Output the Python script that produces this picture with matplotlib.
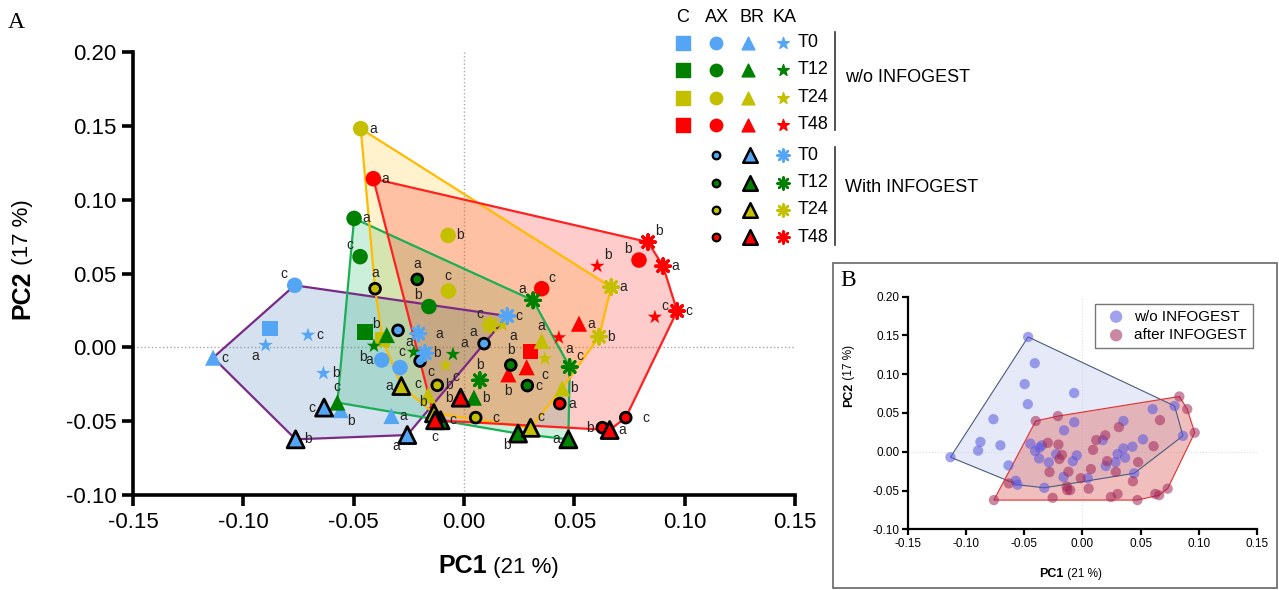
import numpy as np
import matplotlib
matplotlib.use('Agg')
import matplotlib.pyplot as plt
from matplotlib.patches import Polygon, Rectangle

plt.rcParams['font.family'] = ['Liberation Sans', 'DejaVu Sans']

# sampling times (h) for each replicate a, b, c
times = [0, 0, 0, 12, 12, 12, 24, 24, 24, 48, 48, 48]
time_names = ['T0', 'T12', 'T24', 'T48']

# C (control), w/o INFOGEST only
C_t = [0, 12, 24, 48]
C_x = [-0.0879, -0.0449, -0.0370, 0.0302]
C_y = [0.0127, 0.0104, 0.0054, -0.0029]

# AX
AX_wo_x = [-0.0373, -0.0290, -0.0767, -0.0498, -0.0159, -0.0471, -0.0468, -0.0072, -0.0071, -0.0411, 0.0793, 0.0352]
AX_wo_y = [-0.0086, -0.0137, 0.0420, 0.0873, 0.0276, 0.0614, 0.1481, 0.0758, 0.0381, 0.1142, 0.0591, 0.0397]
AX_wo_lab = ['a', '', 'c', 'a', 'b', 'c', 'a', 'b', 'c', 'a', 'b', 'c']
AX_in_x = [-0.0299, 0.0091, -0.0199, -0.0212, 0.0212, 0.0287, -0.0403, -0.0121, 0.0053, 0.0434, 0.0627, 0.0733]
AX_in_y = [0.0115, 0.0025, -0.0093, 0.0460, -0.0120, -0.0259, 0.0397, -0.0257, -0.0476, -0.0381, -0.0544, -0.0476]
AX_in_lab = ['a', 'a', 'c', 'a', 'b', 'c', 'a', 'b', 'c', 'a', 'b', 'c']

# BR
BR_wo_x = [-0.0329, -0.0559, -0.1137, -0.0350, -0.0574, 0.0045, 0.0352, 0.0445, -0.0163, 0.0521, 0.0201, 0.0284]
BR_wo_y = [-0.0465, -0.0425, -0.0070, 0.0083, -0.0374, -0.0341, 0.0043, -0.0278, -0.0325, 0.0160, -0.0183, -0.0135]
BR_wo_lab = ['a', 'b', 'c', 'b', 'c', 'b', 'a', 'b', 'c', 'a', 'b', '']
BR_in_x = [-0.0257, -0.0763, -0.0634, 0.0473, 0.0245, -0.0106, -0.0284, -0.0136, 0.0302, 0.0660, -0.0015, -0.0131]
BR_in_y = [-0.0594, -0.0623, -0.0408, -0.0623, -0.0584, -0.0494, -0.0262, -0.0447, -0.0545, -0.0560, -0.0341, -0.0494]
BR_in_lab = ['a', 'b', 'c', 'a', 'b', 'c', 'a', 'b', 'c', 'a', 'b', 'c']

# KA
KA_wo_x = [-0.0899, -0.0637, -0.0707, -0.0050, -0.0408, -0.0227, 0.0174, -0.0083, 0.0367, 0.0430, 0.0604, 0.0865]
KA_wo_y = [0.0014, -0.0176, 0.0083, -0.0047, 0.0009, -0.0032, 0.0151, -0.0122, -0.0077, 0.0066, 0.0550, 0.0205]
KA_wo_lab = ['a', 'b', 'c', 'a', 'b', 'c', 'a', 'c', 'c', 'a', 'b', 'c']
KA_in_x = [-0.0207, -0.0177, 0.0196, 0.0313, 0.0072, 0.0479, 0.0667, 0.0612, 0.0118, 0.0902, 0.0834, 0.0966]
KA_in_y = [0.0093, -0.0040, 0.0212, 0.0318, -0.0223, -0.0133, 0.0408, 0.0072, 0.0151, 0.0550, 0.0713, 0.0246]
KA_in_lab = ['a', 'b', 'c', 'a', 'b', 'c', 'a', 'b', 'c', 'a', 'b', 'c']

# where each replicate letter sits relative to its marker
AX_wo_side = ['l', 'r', 'ul', 'r', 'ul', 'ul', 'r', 'r', 'u', 'r', 'ul', 'ur']
AX_in_side = ['dr', 'ul', 'dr', 'u', 'u', 'r', 'u', 'r', 'rr', 'r', 'l', 'rr']
BR_wo_side = ['r', 'dr', 'r', 'ul', 'u', 'r', 'u', 'r', 'ul', 'r', 'd', 'r']
BR_in_side = ['dl', 'r', 'l', 'l', 'dl', 'r', 'l', 'ul', 'ur', 'r', 'l', 'd']
KA_wo_side = ['dl', 'r', 'r', 'ur', 'dl', 'l', 'dr', 'dr', 'd', 'dr', 'ur', 'ur']
KA_in_side = ['rr', 'r', 'r', 'ul', 'u', 'ur', 'r', 'r', 'ul', 'r', 'ur', 'r']

tcol = {0: '#55a5f5', 12: '#008000', 24: '#c4c000', 48: '#ff0000'}
hull_edge = {0: '#7a2a85', 12: '#1aae55', 24: '#ffbb00', 48: '#ff2020'}
hull_fill = {0: ('#5b8ac0', 0.25), 12: ('#00b050', 0.2), 24: ('#ffc000', 0.2), 48: ('#ff0000', 0.2)}

offs = {'r': (6, 0, 'left', 'center'), 'rr': (12, 0, 'left', 'center'),
        'l': (-6, 0, 'right', 'center'), 'u': (0, 6, 'center', 'bottom'),
        'd': (0, -7, 'center', 'top'), 'ur': (5, 3, 'left', 'bottom'),
        'ul': (-5, 3, 'right', 'bottom'), 'dr': (5, -3, 'left', 'top'),
        'dl': (-5, -3, 'right', 'top')}


def hull(pts):
    pts = sorted(set(pts))
    def cross(o, a, b):
        return (a[0] - o[0]) * (b[1] - o[1]) - (a[1] - o[1]) * (b[0] - o[0])
    lower, upper = [], []
    for p in pts:
        while len(lower) >= 2 and cross(lower[-2], lower[-1], p) <= 0:
            lower.pop()
        lower.append(p)
    for p in reversed(pts):
        while len(upper) >= 2 and cross(upper[-2], upper[-1], p) <= 0:
            upper.pop()
        upper.append(p)
    return np.array(lower[:-1] + upper[:-1])


fig = plt.figure(figsize=(12.79, 5.9), dpi=100)
ax = fig.add_axes([133 / 1279, 1 - 495 / 590, 662 / 1279, 443 / 590])

series = [
    (C_x, C_y, C_t, None, None, dict(marker='s', s=125), False),
    (AX_wo_x, AX_wo_y, times, AX_wo_lab, AX_wo_side, dict(marker='o', s=125), False),
    (BR_wo_x, BR_wo_y, times, BR_wo_lab, BR_wo_side, dict(marker='^', s=135), False),
    (KA_wo_x, KA_wo_y, times, KA_wo_lab, KA_wo_side, dict(marker='*', s=120), False),
    (AX_in_x, AX_in_y, times, AX_in_lab, AX_in_side, dict(marker='o', s=60), True),
    (BR_in_x, BR_in_y, times, BR_in_lab, BR_in_side, dict(marker='^', s=150), True),
    (KA_in_x, KA_in_y, times, KA_in_lab, KA_in_side, dict(marker=(8, 2, 0), s=115), None),
]

# convex hull for each time point (all samples)
for t in [0, 12, 24, 48]:
    pts = []
    for xs, ys, ts, *_ in series:
        pts += [(x, y) for x, y, tt in zip(xs, ys, ts) if tt == t]
    h = hull(pts)
    fc, al = hull_fill[t]
    ax.add_patch(Polygon(h, closed=True, facecolor=fc, alpha=al, edgecolor='none', zorder=1))
    ax.add_patch(Polygon(h, closed=True, facecolor='none', edgecolor=hull_edge[t], lw=1.6, zorder=2))

ax.axhline(0, color='#aaaaaa', ls=':', lw=1, zorder=0.5)
ax.axvline(0, color='#aaaaaa', ls=':', lw=1, zorder=0.5)

for xs, ys, ts, labs, sides, mk, edged in series:
    cols = [tcol[t] for t in ts]
    if edged is True:
        ax.scatter(xs, ys, c=cols, edgecolors='black', linewidths=2, zorder=4, **mk)
    elif edged is None:
        ax.scatter(xs, ys, c=cols, linewidths=2.2, zorder=4, **mk)
    else:
        ax.scatter(xs, ys, c=cols, edgecolors='none', zorder=3, **mk)
    if labs is None:
        continue
    for x, y, lab, sd in zip(xs, ys, labs, sides):
        if not lab:
            continue
        dx, dy, ha, va = offs[sd]
        ax.annotate(lab, (x, y), xytext=(dx, dy), textcoords='offset points',
                    ha=ha, va=va, fontsize=10, color='#222222', zorder=5)

ticks_x = [-0.15, -0.10, -0.05, 0.0, 0.05, 0.10, 0.15]
ticks_y = [-0.10, -0.05, 0.0, 0.05, 0.10, 0.15, 0.20]
ax.set_xlim(-0.15, 0.15)
ax.set_ylim(-0.10, 0.20)
ax.set_xticks(ticks_x)
ax.set_xticklabels(['%.2f' % v for v in ticks_x])
ax.set_yticks(ticks_y)
ax.set_yticklabels(['%.2f' % v for v in ticks_y])
for s in ['top', 'right']:
    ax.spines[s].set_visible(False)
for s in ['left', 'bottom']:
    ax.spines[s].set_linewidth(2.6)
ax.tick_params(direction='out', length=8, width=2.6, labelsize=16, pad=4)

# axis titles: bold name + plain variance
t1 = fig.text(0.3615, 0.02, 'PC1', fontsize=18, weight='bold', ha='center', va='bottom')
ax.annotate(' (21 %)', xy=(1, 0), xycoords=t1, fontsize=16, ha='left', va='bottom')
t2 = fig.text(0.008, 0.50, 'PC2', fontsize=18, weight='bold', rotation=90, ha='left', va='center')
ax.annotate(' (17 %)', xy=(0.5, 1), xycoords=t2, fontsize=16, rotation=90, ha='center', va='bottom')

# overlay in pixel coordinates for legend, panel letters and inset frame
ov = fig.add_axes([0, 0, 1, 1], facecolor='none')
ov.set_xlim(0, 1279)
ov.set_ylim(590, 0)
ov.axis('off')
ov.text(8, 22, 'A', fontsize=17, family='Liberation Serif', va='center')

for x, h in zip([683, 717, 752, 785], ['C', 'AX', 'BR', 'KA']):
    ov.text(x, 18, h, fontsize=13, ha='center', va='center')
rows_wo = [42.7, 69.7, 97.7, 124.7]
rows_in = [155, 182.7, 209.7, 237]
for i, t in enumerate([0, 12, 24, 48]):
    y = rows_wo[i]
    ov.scatter([683], [y], marker='s', s=110, c=tcol[t])
    ov.scatter([716], [y], marker='o', s=80, c=tcol[t])
    ov.scatter([748], [y], marker='^', s=85, c=tcol[t])
    ov.scatter([783], [y], marker='*', s=75, c=tcol[t])
    ov.text(798, y, time_names[i], fontsize=13, va='center')
    y = rows_in[i]
    ov.scatter([716], [y], marker='o', s=30, c=tcol[t], edgecolors='black', linewidths=1.6)
    ov.scatter([750], [y], marker='^', s=110, c=tcol[t], edgecolors='black', linewidths=1.8)
    ov.scatter([783], [y], marker=(8, 2, 0), s=75, c=tcol[t], linewidths=1.8)
    ov.text(798, y, time_names[i], fontsize=13, va='center')
ov.plot([835, 835], [32, 130], color='#333333', lw=1.2)
ov.plot([835, 835], [147, 245], color='#333333', lw=1.2)
ov.text(845, 77, 'w/o INFOGEST', fontsize=13, va='center')
ov.text(845, 187, 'With INFOGEST', fontsize=13, va='center')

ov.add_patch(Rectangle((833, 263), 444, 325, facecolor='none', edgecolor='#666666', lw=1.2))
ov.text(840, 281, 'B', fontsize=17, family='Liberation Serif', va='center')

# inset B: w/o vs after INFOGEST
axb = fig.add_axes([908.3 / 1279, 1 - 529.3 / 590, 348.4 / 1279, 232.6 / 590])
wo_x = C_x + AX_wo_x + BR_wo_x + KA_wo_x
wo_y = C_y + AX_wo_y + BR_wo_y + KA_wo_y
in_x = AX_in_x + BR_in_x + KA_in_x
in_y = AX_in_y + BR_in_y + KA_in_y
for xs, ys, fc, ec in [(wo_x, wo_y, '#c8d2f0', '#4a5a7a'),
                       (in_x, in_y, '#e07070', '#e03030')]:
    h = hull(list(zip(xs, ys)))
    axb.add_patch(Polygon(h, closed=True, facecolor=fc, alpha=0.45, edgecolor='none', zorder=1))
    axb.add_patch(Polygon(h, closed=True, facecolor='none', edgecolor=ec, lw=0.8, zorder=2))
for xs, ys, pc, lab in [(wo_x, wo_y, '#5555e0', 'w/o INFOGEST'), (in_x, in_y, '#a02858', 'after INFOGEST')]:
    axb.scatter(xs, ys, s=55, c=pc, alpha=0.55, edgecolors='none', zorder=3, label=lab)
axb.axhline(0, color='#dddddd', ls=':', lw=0.8, zorder=0.5)
axb.axvline(0, color='#dddddd', ls=':', lw=0.8, zorder=0.5)
axb.set_xlim(-0.15, 0.15)
axb.set_ylim(-0.10, 0.20)
axb.set_xticks(ticks_x)
axb.set_xticklabels(['%.2f' % v for v in ticks_x])
axb.set_yticks(ticks_y)
axb.set_yticklabels(['%.2f' % v for v in ticks_y])
for s in ['top', 'right']:
    axb.spines[s].set_visible(False)
for s in ['left', 'bottom']:
    axb.spines[s].set_linewidth(1.6)
axb.tick_params(direction='out', length=4, width=1.6, labelsize=8.5, pad=2)
leg = axb.legend(loc='upper right', fontsize=11, frameon=True, fancybox=False,
                 edgecolor='#555555', handletextpad=0.2, borderpad=0.35,
                 bbox_to_anchor=(1.01, 1.0), markerscale=1.2, labelspacing=0.3)
leg.get_frame().set_linewidth(1)
b1 = fig.text(0.8223, 0.017, 'PC1', fontsize=9, weight='bold', ha='center', va='bottom')
axb.annotate(' (21 %)', xy=(1, 0), xycoords=b1, fontsize=8.5, ha='left', va='bottom')
b2 = fig.text(0.659, 0.33, 'PC2', fontsize=9, weight='bold', rotation=90, ha='left', va='center')
axb.annotate(' (17 %)', xy=(0.5, 1), xycoords=b2, fontsize=8.5, rotation=90, ha='center', va='bottom')

fig.savefig('out.png', dpi=100)
